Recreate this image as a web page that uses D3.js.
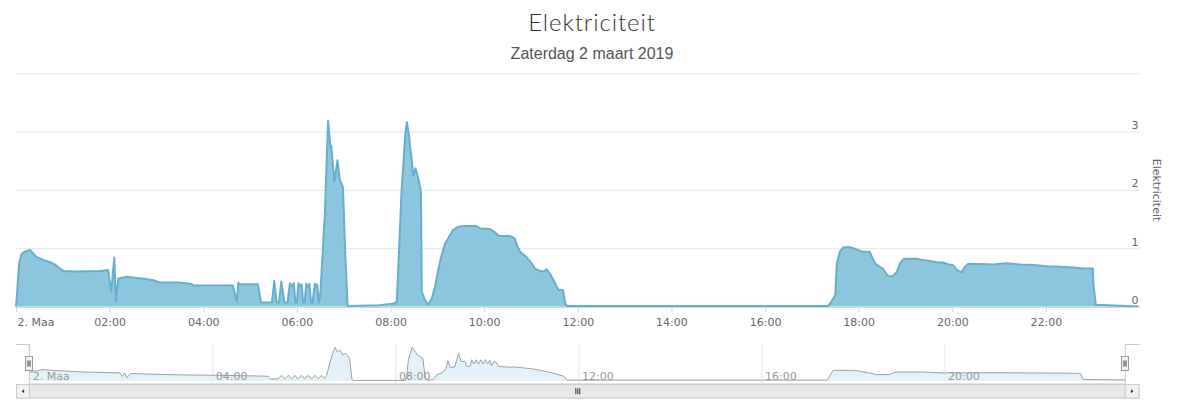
<!DOCTYPE html>
<html>
<head>
<meta charset="utf-8">
<script src="https://cdn.jsdelivr.net/npm/d3@7/dist/d3.min.js"></script>
<style>
  html, body { margin: 0; padding: 0; background: #fff; }
  svg { display: block; }
</style>
</head>
<body>
<svg id="chart" width="1177" height="407"></svg>
<script>
// ---------- DATA ----------
const chartTitle = "Elektriciteit";
const chartSubtitle = "Zaterdag 2 maart 2019";
const yAxisTitle = "Elektriciteit";

// main series: minutes after midnight and values
const mainMinutes = [0,2,4,7,11,18,22,26,35,44,50,56,61,78,108,118,122,126,128,131,142,155,167,176,185,210,225,227,278,283,285,287,310,314,328,331,334,337,340,344,348,351,354,356,358,360,362,364,366,368,370,372,374,376,378,380,383,385,386,388,390,396,400,403,404,408,412,415,419,422,425,466,484,488,490,494,499,501,504,505,507,509,512,516,519,520,524,528,533,537,541,546,550,556,560,567,573,590,595,607,612,618,622,633,639,642,646,654,661,665,672,676,680,684,689,693,695,701,704,706,1041,1045,1050,1052,1056,1060,1067,1073,1079,1084,1094,1097,1101,1107,1111,1115,1118,1124,1129,1133,1137,1141,1154,1162,1171,1180,1188,1195,1201,1206,1212,1216,1220,1235,1252,1269,1287,1304,1321,1338,1355,1368,1380,1381,1384,1439];
const mainValues = [0,0.35,0.74,0.90,0.94,0.97,0.91,0.85,0.80,0.76,0.72,0.65,0.61,0.60,0.61,0.625,0.25,0.84,0.08,0.48,0.51,0.49,0.47,0.45,0.41,0.41,0.385,0.36,0.36,0.08,0.41,0.38,0.38,0.07,0.07,0.44,0.07,0.07,0.43,0.07,0.07,0.40,0.34,0.40,0.07,0.07,0.40,0.34,0.38,0.07,0.07,0.39,0.33,0.39,0.07,0.07,0.39,0.33,0.38,0.07,0.2,1.65,3.19,2.74,2.76,2.14,2.51,2.17,2.05,0.9,0.01,0.02,0.05,0.08,0.68,1.94,2.97,3.16,2.91,2.74,2.54,2.25,2.37,2.17,1.97,0.25,0.12,0.03,0.14,0.34,0.62,0.91,1.08,1.22,1.31,1.37,1.38,1.38,1.34,1.33,1.29,1.22,1.21,1.21,1.17,1.05,0.94,0.85,0.74,0.65,0.61,0.60,0.64,0.57,0.45,0.34,0.29,0.28,0.05,0.01,0.01,0.08,0.2,0.74,0.94,1.01,1.02,1.0,0.97,0.94,0.94,0.85,0.74,0.68,0.65,0.57,0.52,0.52,0.60,0.74,0.81,0.82,0.82,0.80,0.78,0.76,0.755,0.72,0.71,0.625,0.585,0.68,0.73,0.73,0.72,0.74,0.72,0.71,0.69,0.68,0.67,0.65,0.65,0.35,0.03,0];

// navigator series
const navMinutes = [0,5,18,36,71,119,122,125,128,132,136,180,240,294,313,316,326,331,335,340,344,348,352,357,361,366,370,375,379,383,387,390,397,401,404,407,411,415,420,423,425,493,495,497,502,506,509,512,516,519,523,530,534,541,546,549,552,558,563,566,571,574,578,580,583,586,589,592,595,598,601,604,606,609,613,615,630,637,661,683,701,704,706,1046,1054,1082,1097,1111,1127,1137,1170,1198,1270,1322,1378,1382,1437];
const navValues = [0.80,0.91,1.07,0.98,0.85,0.76,0.44,0.76,0.30,0.67,0.70,0.60,0.54,0.48,0.45,0.20,0.20,0.54,0.20,0.54,0.20,0.54,0.20,0.54,0.20,0.54,0.20,0.54,0.20,0.54,0.25,0.6,2.46,3.17,2.71,2.92,2.46,2.61,2.09,0.14,0.05,0.05,0.6,2.0,3.17,2.76,2.46,2.3,2.15,0.3,0.05,0.14,0.6,0.76,1.13,1.9,1.22,1.37,2.61,1.84,1.84,1.37,1.4,2.0,1.6,2.0,1.6,2.0,1.6,2.0,1.6,1.95,1.44,1.84,1.7,1.37,1.30,1.32,1.13,0.82,0.45,0.14,0.08,0.08,1.0,1.0,0.82,0.6,0.6,0.85,0.85,0.76,0.77,0.76,0.72,0.14,0.10];

const xTickMinutes = [0,120,240,360,480,600,720,840,960,1080,1200,1320];
const xTickLabels = ["2. Maa","02:00","04:00","06:00","08:00","10:00","12:00","14:00","16:00","18:00","20:00","22:00"];
const yTickValues = [0,1,2,3,4];
const yTickLabels = ["0","1","2","3",""];
const navTickMinutes = [0,240,480,720,960,1200];
const navTickLabels = ["2. Maa","04:00","08:00","12:00","16:00","20:00"];

// ---------- DRAW ----------
const svg = d3.select("#chart");
const axisFont = "DejaVu Sans, Verdana, sans-serif";

const plot = {left: 16, right: 1139.6, top: 73.3, bottom: 306.5};
const x = d3.scaleLinear().domain([0, 1440]).range([plot.left, plot.right]);
const y = d3.scaleLinear().domain([0, 4]).range([plot.bottom, plot.top]);

// titles
svg.append("text").attr("x", 592).attr("y", 31).attr("text-anchor", "middle")
  .attr("font-family", "Lato, 'Open Sans', sans-serif").attr("font-weight", 300)
  .attr("font-size", 24).attr("letter-spacing", 0.9).attr("fill", "#333").text(chartTitle);
svg.append("text").attr("x", 592).attr("y", 59).attr("text-anchor", "middle")
  .attr("font-family", "'Liberation Sans', Arial, sans-serif")
  .attr("font-size", 16).attr("fill", "#555").text(chartSubtitle);

// y grid + labels (right side)
const yAxis = d3.axisRight(y).tickValues(yTickValues)
  .tickFormat((d, i) => yTickLabels[i])
  .tickSize(-(plot.right - plot.left));
const gy = svg.append("g").attr("transform", `translate(${plot.right},0)`).call(yAxis);
gy.select(".domain").remove();
gy.selectAll(".tick line").attr("stroke", "#e6e6e6");
gy.selectAll(".tick text").attr("x", -1).attr("y", -3).attr("dy", 0)
  .attr("text-anchor", "end").attr("font-family", axisFont)
  .attr("font-size", 11).attr("fill", "#666");

svg.append("text")
  .attr("transform", `translate(1153,190) rotate(90)`)
  .attr("text-anchor", "middle")
  .attr("font-family", axisFont).attr("font-size", 11).attr("fill", "#666")
  .text(yAxisTitle);

// main area
const area = d3.area().x((d) => x(d[0])).y0(y(0)).y1((d) => y(d[1]));
const line = d3.line().x((d) => x(d[0])).y((d) => y(d[1]));
const mainData = mainMinutes.map((m, i) => [m, mainValues[i]]);
svg.append("path").datum(mainData).attr("d", area).attr("fill", "#8cc6df");
svg.append("path").datum(mainData).attr("d", line).attr("fill", "none")
  .attr("stroke", "#68afcd").attr("stroke-width", 2).attr("stroke-linejoin", "round");

// x axis
const xAxis = d3.axisBottom(x).tickValues(xTickMinutes)
  .tickFormat((d, i) => xTickLabels[i]).tickSizeInner(5).tickSizeOuter(0).tickPadding(6);
const gx = svg.append("g").attr("transform", `translate(0,${plot.bottom + 0.5})`).call(xAxis);
gx.select(".domain").attr("stroke", "#ccd6eb");
gx.selectAll(".tick line").attr("stroke", "#ccd6eb");
gx.selectAll(".tick text").attr("font-family", axisFont).attr("font-size", 11).attr("fill", "#666");
gx.selectAll(".tick text").filter((d, i) => i === 0).attr("text-anchor", "start").attr("x", 1);

// ---------- NAVIGATOR ----------
const nav = {left: 29.3, right: 1125.3, top: 344, bottom: 384};
const xNav = d3.scaleLinear().domain([0, 1437]).range([nav.left, nav.right]);
const yNav = d3.scaleLinear().domain([0, 3.2]).range([381, 347]);

// grid lines (behind)
const navGrid = d3.axisBottom(xNav).tickValues(navTickMinutes)
  .tickFormat("").tickSize(-(nav.bottom - nav.top)).tickSizeOuter(0);
const gng = svg.append("g").attr("transform", `translate(0,${nav.bottom})`).call(navGrid);
gng.select(".domain").remove();
gng.selectAll(".tick line").attr("stroke", "#e6e6e6");

const navData = navMinutes.map((m, i) => [m, navValues[i]]);
const navArea = d3.area().x((d) => xNav(d[0])).y0(yNav(0)).y1((d) => yNav(d[1]));
const navLine = d3.line().x((d) => xNav(d[0])).y((d) => yNav(d[1]));
svg.append("path").datum(navData).attr("d", navArea).attr("fill", "#e3f1f9");
svg.append("path").datum(navData).attr("d", navLine).attr("fill", "none")
  .attr("stroke", "#a0a0a0").attr("stroke-width", 1);

// labels (on top)
const navLabels = d3.axisBottom(xNav).tickValues(navTickMinutes)
  .tickFormat((d, i) => navTickLabels[i]).tickSize(0).tickSizeOuter(0);
const gnl = svg.append("g").attr("transform", `translate(0,${nav.bottom})`).call(navLabels);
gnl.select(".domain").remove();
gnl.selectAll(".tick line").remove();
gnl.selectAll(".tick text").attr("text-anchor", "start").attr("x", 3).attr("y", -4).attr("dy", 0)
  .attr("font-family", axisFont).attr("font-size", 11).attr("fill", "#999");

// navigator outline
svg.append("path")
  .attr("d", `M${plot.left},${nav.top + 0.5}H${nav.left}V${nav.bottom}H${nav.right}V${nav.top + 0.5}H${plot.right}`)
  .attr("fill", "none").attr("stroke", "#c8c8c8").attr("stroke-width", 1);

// scrollbar
const sb = {top: 384.5, h: 13.5};
svg.append("rect").attr("x", plot.left + 0.5).attr("y", sb.top).attr("width", plot.right - plot.left - 1).attr("height", sb.h)
  .attr("fill", "#f2f2f2").attr("stroke", "#cccccc");
svg.append("rect").attr("x", nav.left).attr("y", sb.top).attr("width", nav.right - nav.left).attr("height", sb.h)
  .attr("fill", "#e8e8e8").attr("stroke", "#cccccc");
[[plot.left + 0.5, nav.left], [nav.right, plot.right - 0.5]].forEach(([a, b]) => {
  svg.append("rect").attr("x", a).attr("y", sb.top).attr("width", b - a).attr("height", sb.h)
    .attr("fill", "#f2f2f2").attr("stroke", "#cccccc");
});
const cy = sb.top + sb.h / 2;
svg.append("path").attr("d", `M${(plot.left + nav.left) / 2 + 1.5},${cy - 2}L${(plot.left + nav.left) / 2 - 1},${cy}L${(plot.left + nav.left) / 2 + 1.5},${cy + 2}Z`).attr("fill", "#333");
svg.append("path").attr("d", `M${(nav.right + plot.right) / 2 - 1.5},${cy - 2}L${(nav.right + plot.right) / 2 + 1},${cy}L${(nav.right + plot.right) / 2 - 1.5},${cy + 2}Z`).attr("fill", "#333");
const gripX = (nav.left + nav.right) / 2;
[-2, 0, 2].forEach((o) => {
  svg.append("line").attr("x1", gripX + o + 0.5).attr("x2", gripX + o + 0.5).attr("y1", cy - 3).attr("y2", cy + 3)
    .attr("stroke", "#333").attr("stroke-width", 1);
});

// handles
[nav.left, nav.right].forEach((hx) => {
  const g = svg.append("g").attr("transform", `translate(${Math.round(hx) - 3.5},356.5)`);
  g.append("rect").attr("width", 7).attr("height", 14).attr("fill", "#f2f2f2").attr("stroke", "#999");
  g.append("line").attr("x1", 2.5).attr("x2", 2.5).attr("y1", 4).attr("y2", 10).attr("stroke", "#333");
  g.append("line").attr("x1", 4.5).attr("x2", 4.5).attr("y1", 4).attr("y2", 10).attr("stroke", "#333");
});
</script>
</body>
</html>
